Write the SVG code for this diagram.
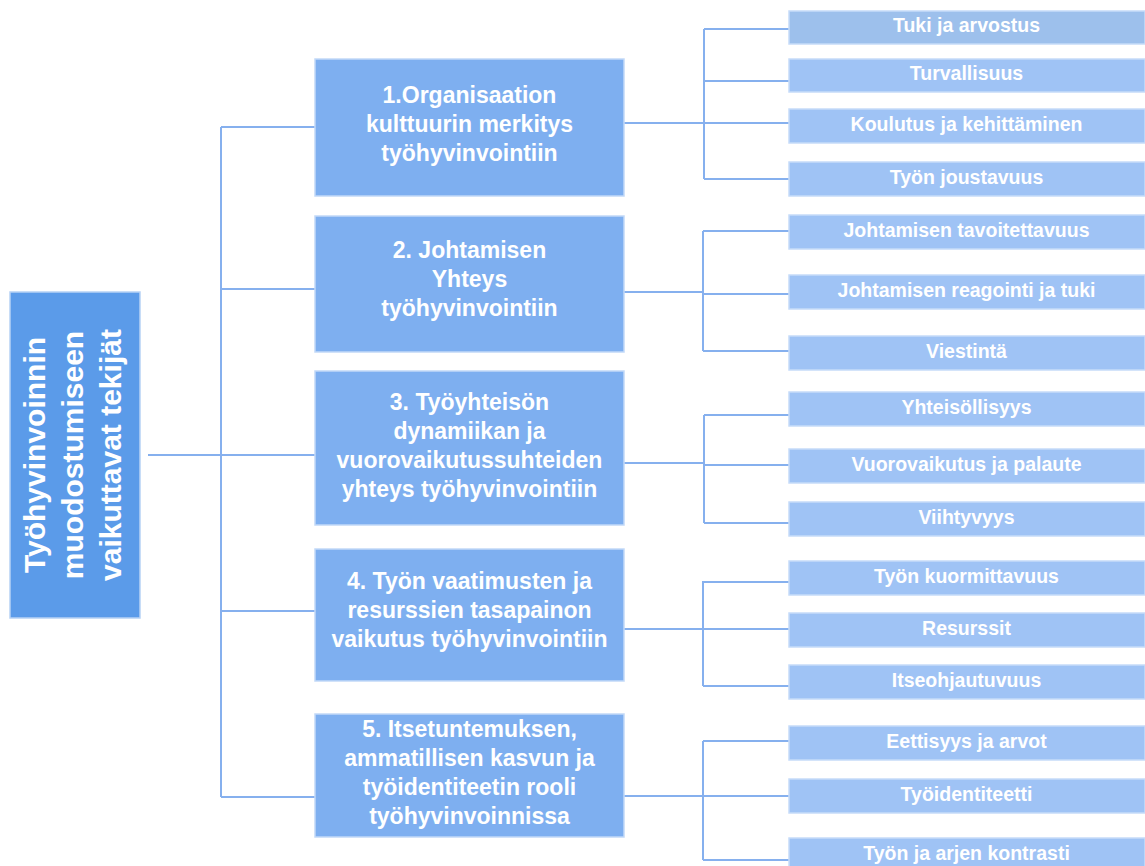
<svg xmlns="http://www.w3.org/2000/svg" width="1145" height="866" viewBox="0 0 1145 866">
<style>
.root{fill:#5b9be9;stroke:#b7d2f5;stroke-width:1.5}
.mid{fill:#7eaff0;stroke:#c2d9f8;stroke-width:1.5}
.leaf{fill:#9fc3f5;stroke:#c6dcf9;stroke-width:1.5}
.leaf0{fill:#9dc0ec;stroke:#c6dcf9;stroke-width:1.5}
text{font-family:"Liberation Sans",Arial,sans-serif;font-weight:bold;fill:#ffffff;text-anchor:middle}
.rt{font-size:30px}
.mt{font-size:23px}
.lt{font-size:19.5px}
.conn path{fill:none;stroke:#86b0ee;stroke-width:2}
</style>
<rect width="1145" height="866" fill="#ffffff"/>
<g class="conn" id="connectors">
<path d="M148 455 H240"/>
<path d="M221 127 V797"/>
<path d="M221 127 H315 M221 289 H315 M238 455 H315 M221 611 H315 M221 797 H315"/>
<path d="M624 123 H789 M704 29 V179 M704 29 H789 M704 81 H789 M704 179 H789"/>
<path d="M624 292 H703 M703 294 H789 M703 231 V351 M703 231 H789 M703 351 H789"/>
<path d="M624 463 H704 M704 465 H789 M704 415 V523 M704 415 H789 M704 523 H789"/>
<path d="M624 629 H789 M703 581 V686 M703 582 H789 M703 686 H789"/>
<path d="M624 796 H789 M703 741 V860 M703 741 H789 M703 860 H789"/>
</g>
<g id="root">
<rect class="root" x="10" y="292" width="130" height="326"/>
<g transform="translate(75 455) rotate(-90)">
<text class="rt" x="0" y="-30">Työhyvinvoinnin</text>
<text class="rt" x="0" y="8">muodostumiseen</text>
<text class="rt" x="0" y="46">vaikuttavat tekijät</text>
</g>
</g>
<g id="m1">
<rect class="mid" x="315" y="59" width="309" height="137"/>
<text class="mt" x="469.5" y="103">1.Organisaation</text>
<text class="mt" x="469.5" y="132">kulttuurin merkitys</text>
<text class="mt" x="469.5" y="161">työhyvinvointiin</text>
</g>
<g id="m2">
<rect class="mid" x="315" y="216" width="309" height="136"/>
<text class="mt" x="469.5" y="258">2. Johtamisen</text>
<text class="mt" x="469.5" y="287">Yhteys</text>
<text class="mt" x="469.5" y="316">työhyvinvointiin</text>
</g>
<g id="m3">
<rect class="mid" x="315" y="371" width="309" height="154"/>
<text class="mt" x="469.5" y="410">3. Työyhteisön</text>
<text class="mt" x="469.5" y="439">dynamiikan ja</text>
<text class="mt" x="469.5" y="468">vuorovaikutussuhteiden</text>
<text class="mt" x="469.5" y="497">yhteys työhyvinvointiin</text>
</g>
<g id="m4">
<rect class="mid" x="315" y="549" width="309" height="132"/>
<text class="mt" x="469.5" y="589">4. Työn vaatimusten ja</text>
<text class="mt" x="469.5" y="618">resurssien tasapainon</text>
<text class="mt" x="469.5" y="647">vaikutus työhyvinvointiin</text>
</g>
<g id="m5">
<rect class="mid" x="315" y="714" width="309" height="123"/>
<text class="mt" x="469.5" y="737">5. Itsetuntemuksen,</text>
<text class="mt" x="469.5" y="766">ammatillisen kasvun ja</text>
<text class="mt" x="469.5" y="795">työidentiteetin rooli</text>
<text class="mt" x="469.5" y="824">työhyvinvoinnissa</text>
</g>
<g id="l1"><rect class="leaf0" x="789" y="11" width="356" height="33"/><text class="lt" x="966.5" y="32">Tuki ja arvostus</text></g>
<g id="l2"><rect class="leaf" x="789" y="59" width="356" height="33"/><text class="lt" x="966.5" y="80">Turvallisuus</text></g>
<g id="l3"><rect class="leaf" x="789" y="109" width="356" height="34"/><text class="lt" x="966.5" y="131">Koulutus ja kehittäminen</text></g>
<g id="l4"><rect class="leaf" x="789" y="162" width="356" height="34"/><text class="lt" x="966.5" y="184">Työn joustavuus</text></g>
<g id="l5"><rect class="leaf" x="789" y="215" width="356" height="34"/><text class="lt" x="966.5" y="237">Johtamisen tavoitettavuus</text></g>
<g id="l6"><rect class="leaf" x="789" y="275" width="356" height="34"/><text class="lt" x="966.5" y="297">Johtamisen reagointi ja tuki</text></g>
<g id="l7"><rect class="leaf" x="789" y="336" width="356" height="34"/><text class="lt" x="966.5" y="358">Viestintä</text></g>
<g id="l8"><rect class="leaf" x="789" y="392" width="356" height="34"/><text class="lt" x="966.5" y="414">Yhteisöllisyys</text></g>
<g id="l9"><rect class="leaf" x="789" y="449" width="356" height="34"/><text class="lt" x="966.5" y="471">Vuorovaikutus ja palaute</text></g>
<g id="l10"><rect class="leaf" x="789" y="502" width="356" height="34"/><text class="lt" x="966.5" y="524">Viihtyvyys</text></g>
<g id="l11"><rect class="leaf" x="789" y="561" width="356" height="34"/><text class="lt" x="966.5" y="583">Työn kuormittavuus</text></g>
<g id="l12"><rect class="leaf" x="789" y="613" width="356" height="34"/><text class="lt" x="966.5" y="635">Resurssit</text></g>
<g id="l13"><rect class="leaf" x="789" y="665" width="356" height="34"/><text class="lt" x="966.5" y="687">Itseohjautuvuus</text></g>
<g id="l14"><rect class="leaf" x="789" y="726" width="356" height="34"/><text class="lt" x="966.5" y="748">Eettisyys ja arvot</text></g>
<g id="l15"><rect class="leaf" x="789" y="779" width="356" height="34"/><text class="lt" x="966.5" y="801">Työidentiteetti</text></g>
<g id="l16"><rect class="leaf" x="789" y="838" width="356" height="34"/><text class="lt" x="966.5" y="860">Työn ja arjen kontrasti</text></g>
</svg>
